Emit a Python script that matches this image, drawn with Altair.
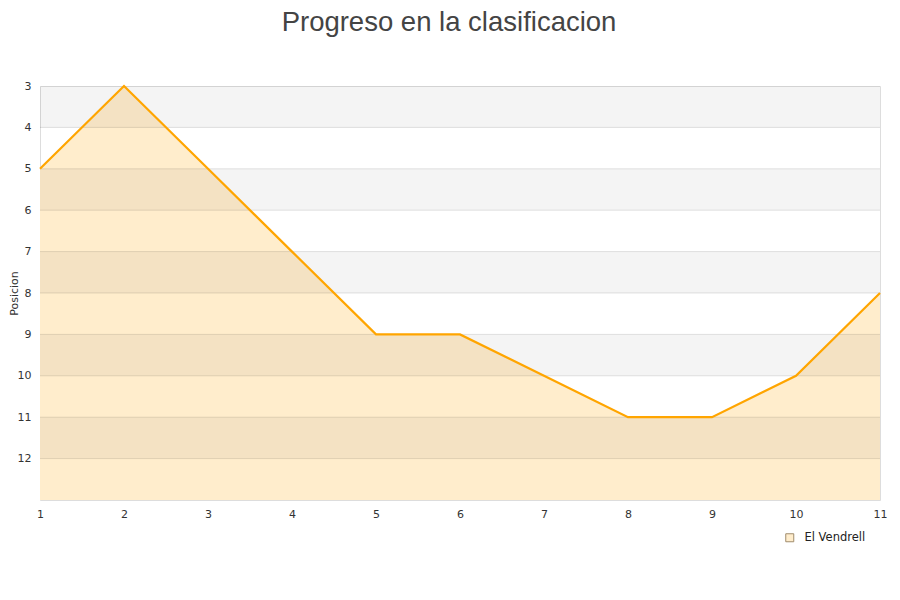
import altair as alt
import pandas as pd

jornada = [1, 2, 3, 4, 5, 6, 7, 8, 9, 10, 11]
posicion = [5, 3, 5, 7, 9, 9, 10, 11, 11, 10, 8]
equipo = "El Vendrell"
band_starts = [3, 5, 7, 9, 11]
grid_vals = [4, 5, 6, 7, 8, 9, 10, 11, 12]

df = pd.DataFrame({"jornada": jornada, "posicion": posicion, "equipo": [equipo] * len(jornada)})
bands = pd.DataFrame({"y0": band_starts, "y1": [b + 1 for b in band_starts]})
grid = pd.DataFrame({"g": grid_vals})

yscale = alt.Scale(domain=[3, 13], reverse=True, nice=False, zero=False)
xscale = alt.Scale(domain=[1, 11], nice=False, zero=False)

area = alt.Chart(df).mark_area(opacity=1, interpolate="linear").encode(
    x=alt.X("jornada:Q", scale=xscale,
            axis=alt.Axis(title=None, values=jornada, grid=False, ticks=False, domain=False,
                          labelPadding=8, labelColor="#333", labelFontSize=11, labelFont="DejaVu Sans",
                          format="d", labelFlush=False)),
    y=alt.Y("posicion:Q", scale=yscale,
            axis=alt.Axis(title="Posicion", values=list(range(3, 13)), grid=False, ticks=False, domain=False,
                          labelPadding=9, labelColor="#333", labelFontSize=11, labelFont="DejaVu Sans",
                          labelFlush=False,
                          titleFont="DejaVu Sans", titleFontSize=11, titleFontWeight="normal", titleColor="#333",
                          titleX=-26, titleY=207, titleAngle=-90, titleAlign="center", titleBaseline="middle")),
    y2=alt.datum(13),
    color=alt.Color("equipo:N", scale=alt.Scale(domain=[equipo], range=["#ffedcc"]),
                    legend=alt.Legend(title=None, orient="none", legendX=744, legendY=446,
                                      symbolType="square", symbolSize=64, symbolStrokeColor="#a08c6c",
                                      symbolStrokeWidth=1, labelFont="DejaVu Sans", labelFontSize=11.5,
                                      labelColor="#222", labelOffset=9)),
)

band_layer = alt.Chart(bands).mark_rect(color="black", opacity=0.045).encode(
    y=alt.Y("y0:Q", scale=yscale), y2="y1:Q",
)

grid_layer = alt.Chart(grid).mark_rule(color="black", opacity=0.11, strokeWidth=1).encode(
    y=alt.Y("g:Q", scale=yscale),
)

line = alt.Chart(df).mark_line(color="#ffa500", strokeWidth=2.2, interpolate="linear").encode(
    x=alt.X("jornada:Q", scale=xscale),
    y=alt.Y("posicion:Q", scale=yscale),
)

chart = alt.layer(area, band_layer, grid_layer, line).properties(
    width=840, height=414,
    title=alt.TitleParams("Progreso en la clasificacion", fontSize=27.5, font="Liberation Sans",
                          fontWeight="normal", color="#444", anchor="middle", dx=-11, offset=44,
                          baseline="top"),
    autosize=alt.AutoSizeParams(type="none"),
    padding={"left": 32, "top": 78, "right": 12, "bottom": 80},
).configure_view(stroke="#dddddd", strokeWidth=1)

chart.save("out.html", embed_options={"renderer": "svg", "actions": False})
